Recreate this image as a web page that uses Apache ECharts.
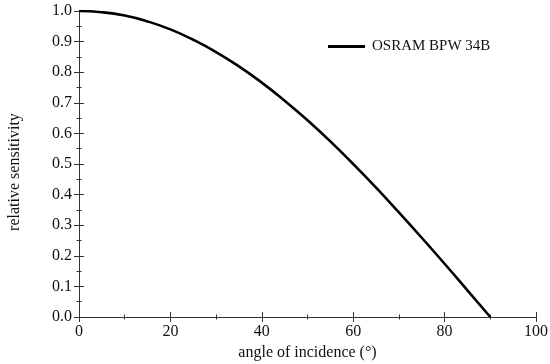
<!DOCTYPE html>
<html><head><meta charset="utf-8">
<script src="https://cdn.jsdelivr.net/npm/echarts@6/dist/echarts.min.js"></script>
<style>html,body{margin:0;padding:0;background:#fff}#c{width:550px;height:364px}</style>
</head><body><div id="c"></div>
<script>
var angles = [0,5,10,15,20,25,30,35,40,45,50,55,60,65,70,75,80,85,90];
var sensitivity = [1.0,0.996,0.985,0.966,0.94,0.906,0.866,0.819,0.766,0.707,0.643,0.574,0.5,0.423,0.342,0.259,0.174,0.087,0.0];
var seriesName = 'OSRAM BPW 34B';
var xName = 'angle of incidence (°)';
var yName = 'relative sensitivity';

var font = 'Liberation Serif, Times New Roman, serif';
var axisColor = '#333';
var chart = echarts.init(document.getElementById('c'));
function xAx(inside, main){
  return {type:'value', min:0, max:100, interval:20, position:'bottom',
    name: main ? xName : '', nameLocation:'middle', nameGap:27,
    nameTextStyle:{fontFamily:font, fontSize:16, color:'#111'},
    axisLine:{show:main, lineStyle:{color:axisColor, width:1}},
    axisTick:{show:true, inside:inside, length:5, lineStyle:{color:axisColor}},
    minorTick:{show:true, splitNumber:2, length:2.5, lineStyle:{color:axisColor}},
    axisLabel:{show:main, margin:7, fontFamily:font, fontSize:16, color:'#111'},
    splitLine:{show:false}};
}
function yAx(inside, main){
  return {type:'value', min:0, max:1, interval:0.1, position:'left',
    axisLine:{show:main, lineStyle:{color:axisColor, width:1}},
    axisTick:{show:true, inside:inside, length:5, lineStyle:{color:axisColor}},
    minorTick:{show:true, splitNumber:2, length:2.5, lineStyle:{color:axisColor}},
    axisLabel:{show:main, margin:7, fontFamily:font, fontSize:16, color:'#111',
      formatter:function(v){return v.toFixed(1);}},
    splitLine:{show:false}};
}
chart.setOption({
  animation:false,
  grid:{left:79, right:14, top:11, bottom:47, containLabel:false, outerBoundsMode:'none'},
  legend:{show:true, left:323, top:34, itemWidth:37, itemHeight:3, itemGap:8,
    textStyle:{fontFamily:font, fontSize:15, color:'#111', padding:[0,0,0,2]},
    data:[{name:seriesName, icon:'rect', itemStyle:{color:'#000'}}]},
  graphic:[{type:'text', x:15, y:172, rotation:Math.PI/2,
    style:{text:yName, fontFamily:font, fontSize:16, fill:'#111', align:'center', verticalAlign:'middle'}}],
  xAxis:[xAx(false,true), xAx(true,false)],
  yAxis:[yAx(false,true), yAx(true,false)],
  series:[{name:seriesName, type:'line', xAxisIndex:0, yAxisIndex:0,
    data: angles.map(function(a,i){return [a, sensitivity[i]];}),
    smooth:true, symbol:'none', lineStyle:{color:'#000', width:2.6}, itemStyle:{color:'#000'}}]
});
</script></body></html>
